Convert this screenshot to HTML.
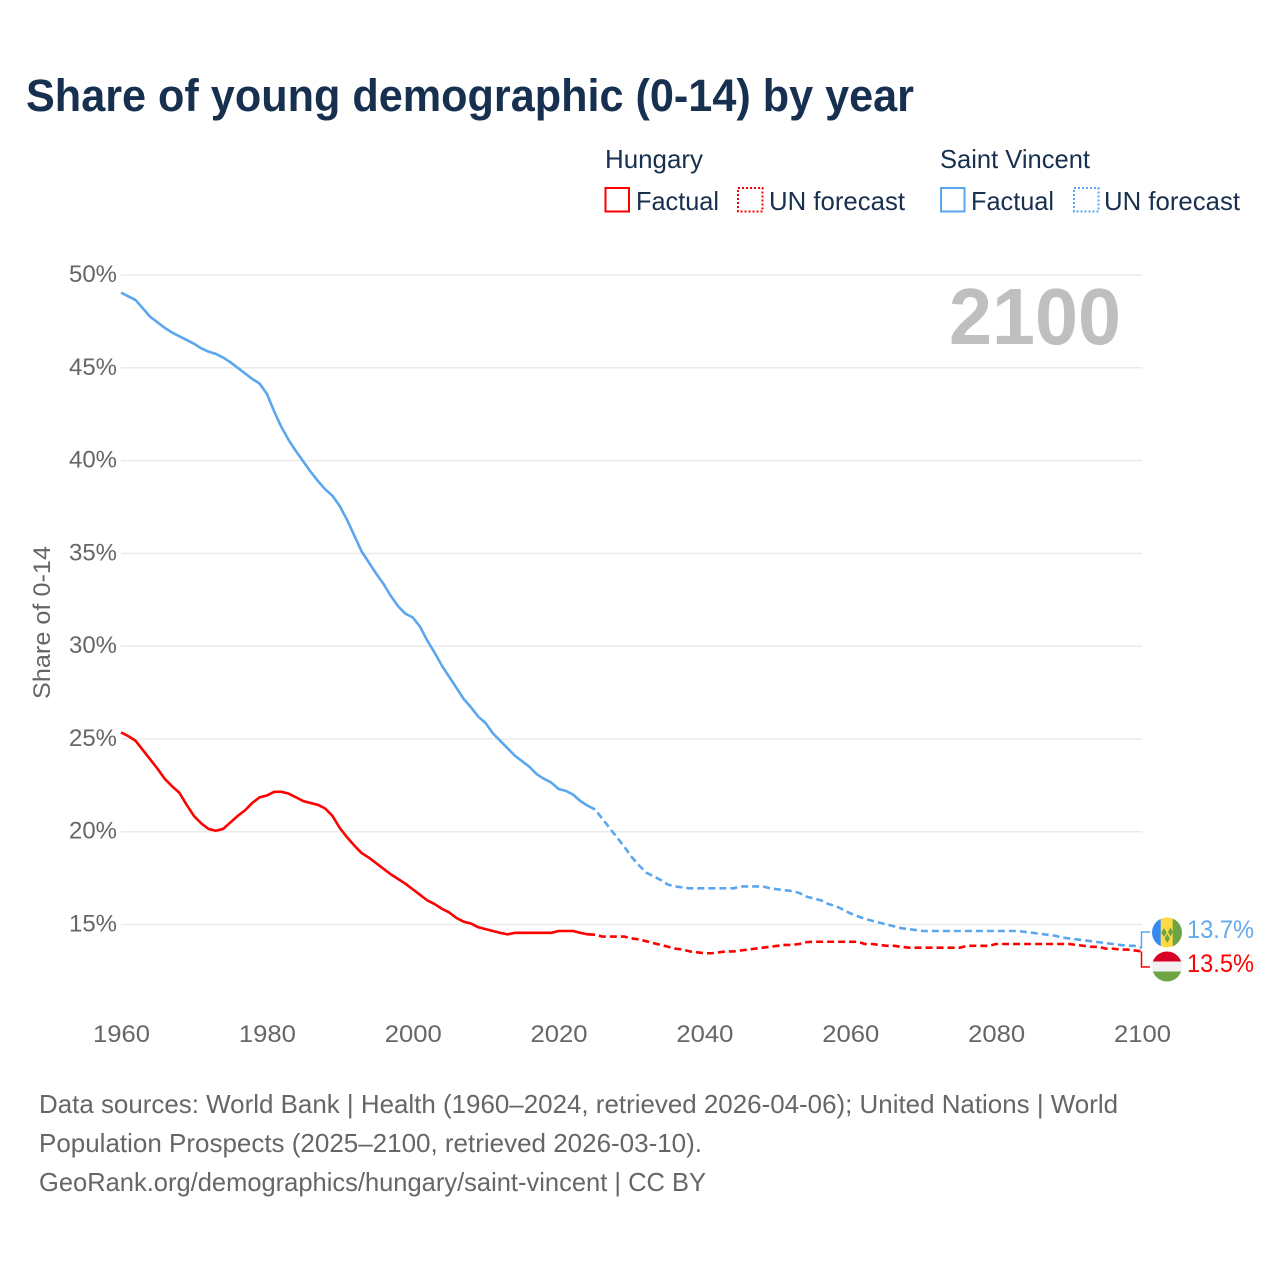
<!DOCTYPE html>
<html lang="en">
<head>
<meta charset="utf-8">
<title>Share of young demographic (0-14) by year</title>
<style>
html,body{margin:0;padding:0;background:#fff;}
svg{display:block;font-family:"Liberation Sans",sans-serif;}
</style>
</head>
<body>
<svg id="chart" xmlns="http://www.w3.org/2000/svg" width="1280" height="1280" viewBox="0 0 1280 1280">
  <defs>
    <clipPath id="clip-top-flag"><circle cx="1167" cy="932.5" r="15"/></clipPath>
    <clipPath id="clip-bottom-flag"><circle cx="1167" cy="966.5" r="15"/></clipPath>
  </defs>
  <rect x="0" y="0" width="1280" height="1280" fill="#ffffff"/>
  <text x="26" y="111" font-size="45" font-weight="700" fill="#17304f" textLength="888" lengthAdjust="spacingAndGlyphs">Share of young demographic (0-14) by year</text>

  <g font-size="26" fill="#17304f">
    <text x="605" y="168" textLength="98" lengthAdjust="spacingAndGlyphs">Hungary</text>
    <rect x="605.5" y="188" width="23.5" height="23.5" fill="none" stroke="#ff0000" stroke-width="2"/>
    <text x="636" y="210" textLength="83" lengthAdjust="spacingAndGlyphs">Factual</text>
    <rect x="738" y="188" width="24.5" height="23.5" fill="none" stroke="#ff0000" stroke-width="2" stroke-dasharray="2 2"/>
    <text x="769" y="210" textLength="136" lengthAdjust="spacingAndGlyphs">UN forecast</text>
    <text x="940" y="168" textLength="150" lengthAdjust="spacingAndGlyphs">Saint Vincent</text>
    <rect x="941" y="188" width="23.5" height="23.5" fill="none" stroke="#5ba7ef" stroke-width="2"/>
    <text x="971" y="210" textLength="83" lengthAdjust="spacingAndGlyphs">Factual</text>
    <rect x="1074" y="188" width="24.5" height="23.5" fill="none" stroke="#5ba7ef" stroke-width="2" stroke-dasharray="2 2"/>
    <text x="1104" y="210" textLength="136" lengthAdjust="spacingAndGlyphs">UN forecast</text>
  </g>

  <g id="grid"></g>
  <g id="y-ticks"></g>
  <g id="x-ticks"></g>
  <text transform="translate(50 622.5) rotate(-90)" text-anchor="middle" font-size="24" fill="#666666" textLength="153" lengthAdjust="spacingAndGlyphs">Share of 0-14</text>
  <text x="949" y="344" font-size="80" font-weight="700" fill="#bfbfbf" textLength="172" lengthAdjust="spacingAndGlyphs">2100</text>
  <g id="series"></g>

  <path id="connector-sv" fill="none" stroke="#5ba7ef" stroke-width="1.5"/>
  <path id="connector-hu" fill="none" stroke="#ff0000" stroke-width="1.5"/>

  <g clip-path="url(#clip-top-flag)">
    <rect x="1152" y="917" width="9" height="31" fill="#338af3"/>
    <rect x="1160.7" y="917" width="12.3" height="31" fill="#ffda44"/>
    <rect x="1172.7" y="917" width="10" height="31" fill="#6da544"/>
    <polygon points="1164,928 1166.8,932.5 1164,937 1161.2,932.5" fill="#6da544"/>
    <polygon points="1170.5,927.5 1173,932 1170.5,936.5 1168,932" fill="#6da544"/>
    <polygon points="1167.3,934 1170,938.5 1167.3,943 1164.6,938.5" fill="#6da544"/>
  </g>
  <g clip-path="url(#clip-bottom-flag)">
    <rect x="1152" y="951" width="30" height="11" fill="#d80027"/>
    <rect x="1152" y="961.5" width="30" height="10.5" fill="#f0f0f0"/>
    <rect x="1152" y="971.5" width="30" height="11" fill="#6da544"/>
  </g>
  <text id="value-sv" x="1187" y="938" font-size="25" fill="#64a9ec" textLength="67" lengthAdjust="spacingAndGlyphs"></text>
  <text id="value-hu" x="1187" y="972" font-size="25" fill="#ff0000" textLength="67" lengthAdjust="spacingAndGlyphs"></text>

  <g font-size="26" fill="#666666">
    <text x="39" y="1113" textLength="1079" lengthAdjust="spacingAndGlyphs">Data sources: World Bank | Health (1960–2024, retrieved 2026-04-06); United Nations | World</text>
    <text x="39" y="1152" textLength="663" lengthAdjust="spacingAndGlyphs">Population Prospects (2025–2100, retrieved 2026-03-10).</text>
    <text x="39" y="1191" textLength="667" lengthAdjust="spacingAndGlyphs">GeoRank.org/demographics/hungary/saint-vincent | CC BY</text>
  </g>
</svg>
<script>
const yTickValues = [15, 20, 25, 30, 35, 40, 45, 50];
const xTickYears = [1960, 1980, 2000, 2020, 2040, 2060, 2080, 2100];
const factualStartYear = 1960;
const forecastStartYear = 2025;
const endLabelSaintVincent = "13.7%";
const endLabelHungary = "13.5%";

const saintVincentFactual = [
  49.05, 48.85, 48.65, 48.2, 47.75, 47.45, 47.15, 46.9, 46.7, 46.5,
  46.3, 46.05, 45.87, 45.75, 45.55, 45.3, 45.0, 44.7, 44.4, 44.15,
  43.6, 42.65, 41.8, 41.1, 40.5, 39.95, 39.4, 38.9, 38.45, 38.1,
  37.55, 36.8, 35.95, 35.1, 34.5, 33.9, 33.35, 32.7, 32.15, 31.75,
  31.55, 31.05, 30.3, 29.65, 28.95, 28.35, 27.75, 27.15, 26.7, 26.2,
  25.85, 25.3, 24.9, 24.5, 24.1, 23.8, 23.5, 23.1, 22.85, 22.65,
  22.3, 22.2, 22.0, 21.65, 21.4, 21.2
];
const hungaryFactual = [
  25.35, 25.15, 24.9, 24.4, 23.9, 23.4, 22.85, 22.45, 22.1, 21.45,
  20.85, 20.45, 20.15, 20.05, 20.15, 20.5, 20.85, 21.15, 21.55, 21.85,
  21.95, 22.15, 22.15, 22.05, 21.85, 21.65, 21.55, 21.45, 21.25, 20.85,
  20.2, 19.7, 19.25, 18.85, 18.6, 18.3, 18.0, 17.7, 17.45, 17.2,
  16.9, 16.6, 16.3, 16.1, 15.85, 15.65, 15.35, 15.15, 15.05, 14.85,
  14.75, 14.65, 14.55, 14.47, 14.55, 14.55, 14.55, 14.55, 14.55, 14.55,
  14.65, 14.65, 14.65, 14.55, 14.47, 14.45
];
const saintVincentForecast = [
  21.2, 20.7, 20.2, 19.7, 19.2, 18.65, 18.2, 17.8, 17.6, 17.4,
  17.15, 17.05, 17.0, 16.95, 16.95, 16.95, 16.95, 16.95, 16.95, 16.95,
  17.05, 17.05, 17.05, 17.05, 16.95, 16.9, 16.85, 16.8, 16.7, 16.5,
  16.4, 16.3, 16.1, 16.0, 15.8, 15.6, 15.45, 15.3, 15.2, 15.1,
  15.0, 14.9, 14.8, 14.75, 14.7, 14.65, 14.65, 14.65, 14.65, 14.65,
  14.65, 14.65, 14.65, 14.65, 14.65, 14.65, 14.65, 14.65, 14.65, 14.6,
  14.55, 14.5, 14.45, 14.4, 14.3, 14.25, 14.2, 14.15, 14.1, 14.05,
  14.0, 13.95, 13.9, 13.85, 13.85, 13.75
];
const hungaryForecast = [
  14.45, 14.35, 14.35, 14.35, 14.35, 14.25, 14.2, 14.1, 14.0, 13.9,
  13.8, 13.7, 13.65, 13.55, 13.5, 13.45, 13.45, 13.5, 13.55, 13.55,
  13.6, 13.65, 13.7, 13.75, 13.8, 13.85, 13.9, 13.9, 13.95, 14.05,
  14.07, 14.07, 14.07, 14.07, 14.07, 14.07, 14.07, 13.95, 13.95, 13.9,
  13.85, 13.85, 13.8, 13.75, 13.75, 13.75, 13.75, 13.75, 13.75, 13.75,
  13.75, 13.85, 13.85, 13.85, 13.85, 13.95, 13.95, 13.95, 13.95, 13.95,
  13.95, 13.95, 13.95, 13.95, 13.95, 13.95, 13.9, 13.85, 13.8, 13.8,
  13.7, 13.7, 13.65, 13.65, 13.6, 13.55
];

const SVGNS = "http://www.w3.org/2000/svg";
function xScale(year) { return 121 + (year - 1960) * (1142 - 121) / 140; }
function yScale(value) { return 924.5 - (value - 15) * (924.5 - 275) / 35; }

const gridLayer = document.getElementById("grid");
const yTickLayer = document.getElementById("y-ticks");
const xTickLayer = document.getElementById("x-ticks");
const seriesLayer = document.getElementById("series");

yTickValues.forEach(function (v) {
  const line = document.createElementNS(SVGNS, "line");
  
  
  line.setAttribute("x1", 121);
  line.setAttribute("x2", 1142);
  line.setAttribute("y1", yScale(v));
  line.setAttribute("y2", yScale(v));
  line.setAttribute("stroke", "#ebebeb");
  line.setAttribute("stroke-width", "1.5");
  gridLayer.appendChild(line);

  const label = document.createElementNS(SVGNS, "text");
  
  
  label.setAttribute("x", 117);
  label.setAttribute("y", yScale(v) + 7);
  label.setAttribute("text-anchor", "end");
  label.setAttribute("font-size", "24");
  label.setAttribute("fill", "#666666");
  label.setAttribute("textLength", "48");
  label.setAttribute("lengthAdjust", "spacingAndGlyphs");
  label.textContent = v + "%";
  yTickLayer.appendChild(label);
});

xTickYears.forEach(function (year) {
  const label = document.createElementNS(SVGNS, "text");
  
  
  label.setAttribute("x", xScale(year) + 0.5);
  label.setAttribute("y", 1042);
  label.setAttribute("text-anchor", "middle");
  label.setAttribute("font-size", "24");
  label.setAttribute("fill", "#666666");
  label.setAttribute("textLength", "57");
  label.setAttribute("lengthAdjust", "spacingAndGlyphs");
  label.textContent = year;
  xTickLayer.appendChild(label);
});

function linePoints(values, startYear) {
  return values.map(function (v, i) {
    return xScale(startYear + i).toFixed(2) + "," + yScale(v).toFixed(2);
  }).join(" ");
}

function addSeries(values, startYear, color, dashed, name) {
  const line = document.createElementNS(SVGNS, "polyline");
  
  
  line.setAttribute("points", linePoints(values, startYear));
  line.setAttribute("fill", "none");
  line.setAttribute("stroke", color);
  line.setAttribute("stroke-width", "2.6");
  line.setAttribute("stroke-linejoin", "round");
  if (dashed) {
    line.setAttribute("stroke-dasharray", "7 4");
    line.setAttribute("stroke-dashoffset", "7");
  }
  seriesLayer.appendChild(line);
}

addSeries(saintVincentFactual, factualStartYear, "#5ba7ef", false, "saint-vincent-factual-line");
addSeries(saintVincentForecast, forecastStartYear, "#5ba7ef", true, "saint-vincent-forecast-line");
addSeries(hungaryFactual, factualStartYear, "#ff0000", false, "hungary-factual-line");
addSeries(hungaryForecast, forecastStartYear, "#ff0000", true, "hungary-forecast-line");

const svEndY = yScale(saintVincentForecast[saintVincentForecast.length - 1]);
const huEndY = yScale(hungaryForecast[hungaryForecast.length - 1]);
document.getElementById("connector-sv").setAttribute("d", "M1141.5 " + svEndY.toFixed(2) + " V932 H1150");
document.getElementById("connector-hu").setAttribute("d", "M1141.5 " + huEndY.toFixed(2) + " V967 H1150");
document.getElementById("value-sv").textContent = endLabelSaintVincent;
document.getElementById("value-hu").textContent = endLabelHungary;
</script>
</body>
</html>
